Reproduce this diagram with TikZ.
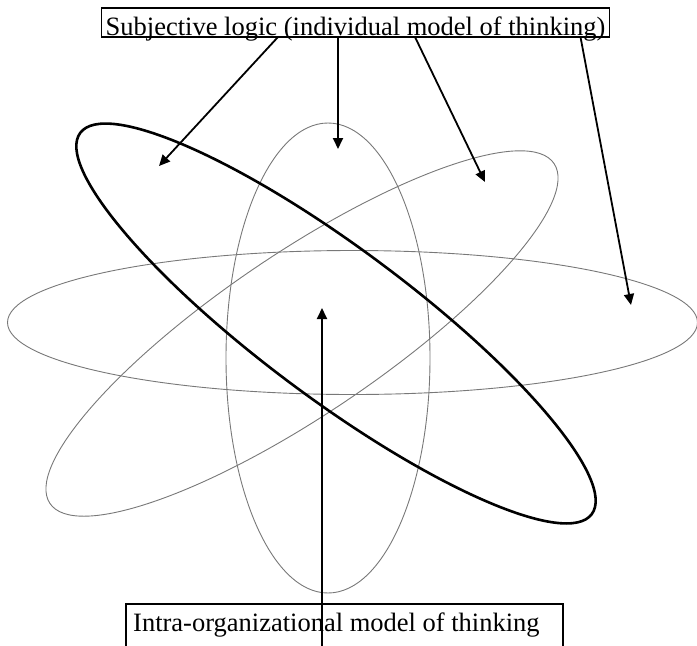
\documentclass[tikz,border=0pt]{standalone}
\usepackage{fontspec}
\setmainfont{Liberation Serif}
\usetikzlibrary{arrows.meta}
\definecolor{thinline}{RGB}{120,120,120}
\begin{document}
\begin{tikzpicture}[x=1pt,y=-1pt,
  orbit/.style={draw=thinline, line width=0.9pt},
  mainorbit/.style={draw=black, line width=2.6pt},
  pointer/.style={draw=black, line width=1.8pt, -{Triangle[length=11pt,width=10pt]}},
  labeltext/.style={font=\fontsize{26.5}{30}\selectfont, inner sep=0pt},
  frame/.style={draw=black, line width=1.4pt}]
\useasboundingbox (0,0) rectangle (697,646);

% orbits
\draw[orbit] (352.5,322.5) ellipse [x radius=345pt, y radius=72pt];
\draw[orbit, rotate around={34:(302,333.5)}] (302,333.5) ellipse [x radius=304pt, y radius=80.6pt];
\draw[orbit] (328,358) ellipse [x radius=102pt, y radius=235pt];
\draw[mainorbit, rotate around={-36.7:(336,323.5)}] (336,323.5) ellipse [x radius=319pt, y radius=75pt];

% labels
\node[labeltext, frame, anchor=base west, text height=27pt, text depth=2pt,
      inner xsep=4pt, inner ysep=0pt]
      (toplabel) at (101,35) {Subjective logic (individual model of thinking)};
\node[labeltext, anchor=base west] (botlabel) at (133,631) {Intra-organizational model of thinking};
\draw[frame] (126,646) -- (126,604) -- (563,604) -- (563,646);

% arrow ends
\coordinate (s1) at (278,37);   \coordinate (t1) at (159,166);
\coordinate (s2) at (338,37);   \coordinate (t2) at (338,149);
\coordinate (s3) at (415,37);   \coordinate (t3) at (485,182);
\coordinate (s4) at (580.5,37); \coordinate (t4) at (631,305);
\coordinate (s5) at (322,646);  \coordinate (t5) at (322,308);

\draw[pointer] (s1) -- (t1);
\draw[pointer] (s2) -- (t2);
\draw[pointer] (s3) -- (t3);
\draw[pointer] (s4) -- (t4);
\draw[pointer] (s5) -- (t5);
\end{tikzpicture}
\end{document}
